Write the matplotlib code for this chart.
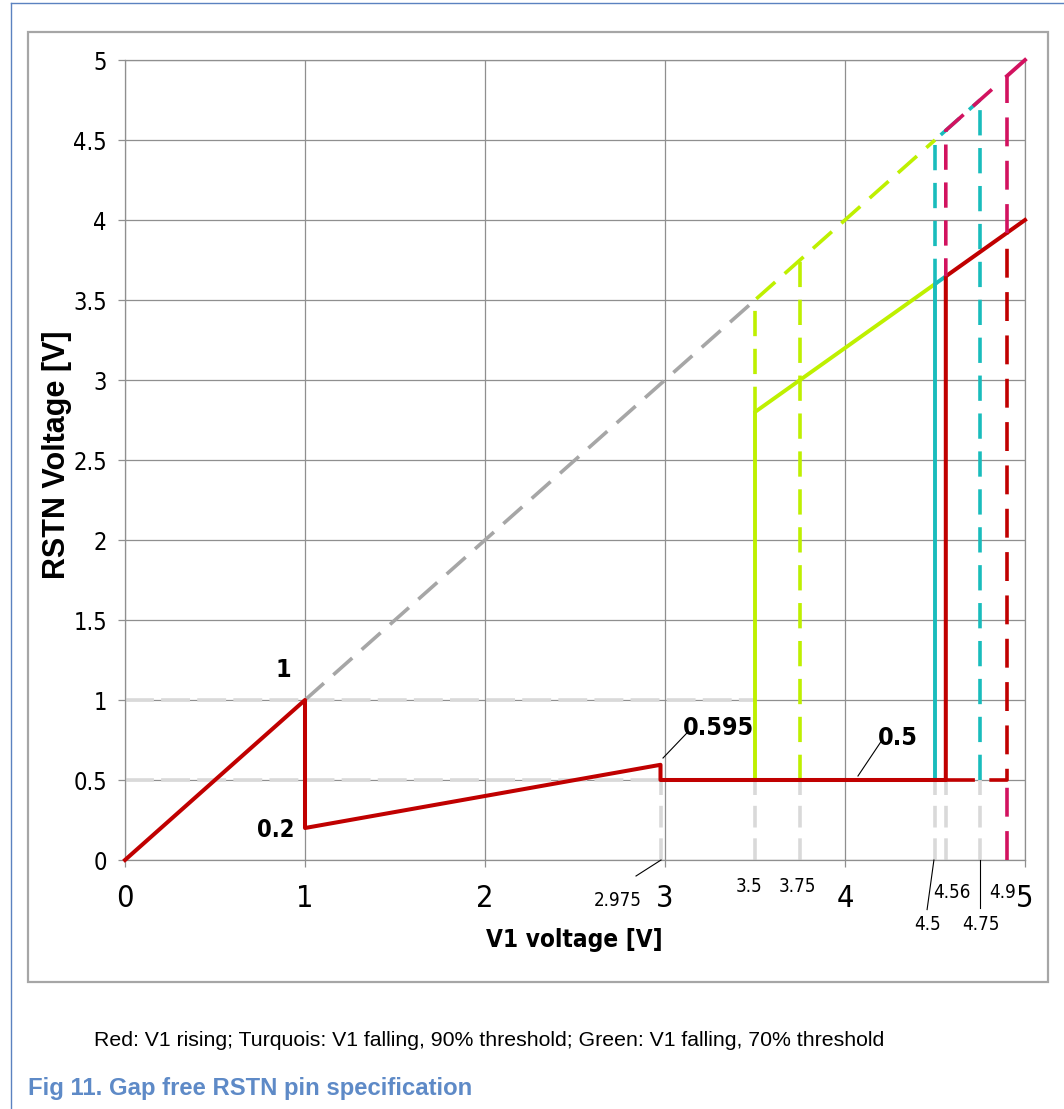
import matplotlib
matplotlib.use("Agg")
import matplotlib.pyplot as plt
from matplotlib import font_manager
from matplotlib.font_manager import FontProperties
from matplotlib.lines import Line2D
from matplotlib.patches import Rectangle

plt.rcParams['font.family'] = ['Liberation Sans', 'DejaVu Sans']


def narrow_font(bold):
    # look for an installed condensed face, otherwise plain Liberation Sans
    want = 'bold' if bold else 'normal'
    for stretch in ['condensed', 'semi-condensed']:
        for fam in ['Liberation Sans Narrow', 'Noto Sans', 'Open Sans', 'Roboto', 'DejaVu Sans']:
            for f in font_manager.fontManager.ttflist:
                if f.name != fam or f.style != 'normal':
                    continue
                w = 'bold' if f.weight in ('bold', 700) else f.weight
                if w in (400, 'normal', 'regular', 'book'):
                    w = 'normal'
                if w != want:
                    continue
                if fam == 'Liberation Sans Narrow' or f.stretch == stretch:
                    return FontProperties(fname=f.fname)
    return FontProperties(family='Liberation Sans', weight=want)


NARROW = narrow_font(False)
NARROW_B = narrow_font(True)

# ---- data ----
x_ticks = [0, 1, 2, 3, 4, 5]
y_ticks = [0, 0.5, 1, 1.5, 2, 2.5, 3, 3.5, 4, 4.5, 5]
y_tick_labels = ['0', '0.5', '1', '1.5', '2', '2.5', '3', '3.5', '4', '4.5', '5']

# red: V1 rising
red_x = [0, 1, 1, 2.975, 2.975, 4.56, 4.56, 5]
red_y = [0, 1, 0.2, 0.595, 0.5, 0.5, 3.648, 4]
red_dash_x = [4.56, 4.9, 4.9]
red_dash_y = [0.5, 0.5, 3.92]

# green: V1 falling, 70% threshold
green_x = [3.5, 3.5, 4.5]
green_y = [0.5, 2.8, 3.6]
green_dash_x = [3.5, 3.5, 4.5]
green_dash_y = [2.8, 3.5, 4.5]
green_v_x = [3.75, 3.75]
green_v_y = [0.5, 3.75]

# turquoise: V1 falling, 90% threshold
turq_x = [4.5, 4.5, 4.56]
turq_y = [0.5, 3.6, 3.648]
turq_dash_x = [4.5, 4.5, 4.75]
turq_dash_y = [3.6, 4.5, 4.75]
turq_v_x = [4.75, 4.75]
turq_v_y = [0.5, 4.75]

# magenta upper branch
mag_dash_x = [4.56, 4.56, 4.85]
mag_dash_y = [3.648, 4.56, 4.85]
mag_x = [4.9, 5]
mag_y = [4.9, 5]
mag_v_top_x = [4.9, 4.9]
mag_v_top_y = [3.92, 4.9]
mag_v_low_x = [4.9, 4.9]
mag_v_low_y = [0, 0.5]

# grey helper lines
diag_x = [1, 3.5]
diag_y = [1, 3.5]
guide_h_y = [1, 0.5]
guide_h_end = [3.5, 3.0]
guide_v_x = [2.975, 3.5, 3.75, 4.5, 4.56, 4.75]

# value labels: text, x, y
bold_labels = [('1', 0.878, 1.19, 18), ('0.2', 0.84, 0.19, 17),
               ('0.595', 3.295, 0.825, 18), ('0.5', 4.294, 0.7625, 18)]
bold_leaders = [((2.989, 0.6375), (3.122, 0.794)), ((4.072, 0.525), (4.206, 0.75))]
small_labels = [('2.975', 2.739, -0.256), ('3.5', 3.467, -0.163), ('3.75', 3.733, -0.163),
                ('4.5', 4.461, -0.40), ('4.56', 4.594, -0.206), ('4.75', 4.756, -0.406),
                ('4.9', 4.878, -0.20)]
small_leaders = [((2.978, 0.0), (2.839, -0.10)), ((4.494, 0.0), (4.456, -0.31)),
                 ((4.75, 0.0), (4.75, -0.30))]

RED = '#C00000'
GREEN = '#BEF000'
TURQ = '#19BCBC'
MAG = '#D2125F'
GRID = '#8F8F8F'

W, H = 1064, 1109
fig = plt.figure(figsize=(W / 100, H / 100), dpi=100)

# frame lines of the page
fig.add_artist(Line2D([11 / W, 1], [1 - 3 / H, 1 - 3 / H], color='#5B82C0', lw=1.0))
fig.add_artist(Line2D([11 / W, 11 / W], [0, 1 - 3 / H], color='#5B82C0', lw=1.0))
fig.add_artist(Rectangle((28 / W, 1 - 982 / H), 1020 / W, 950 / H, fill=False,
                         edgecolor='#A6A6A6', lw=1.6))

ax = fig.add_axes([125 / W, 1 - 860 / H, 900 / W, 800 / H])
ax.set_xlim(0, 5)
ax.set_ylim(0, 5)
ax.set_xticks(x_ticks)
ax.set_xticklabels([str(v) for v in x_ticks], fontproperties=NARROW, fontsize=22)
ax.set_yticks(y_ticks)
ax.set_yticklabels(y_tick_labels, fontproperties=NARROW, fontsize=17)
ax.grid(True, color=GRID, lw=0.9, zorder=0)
ax.set_axisbelow(True)
for s in ax.spines.values():
    s.set_color(GRID)
    s.set_linewidth(0.9)
ax.tick_params(axis='both', direction='out', length=5, width=0.9, color=GRID)
ax.tick_params(axis='x', pad=12)
ax.tick_params(axis='y', pad=8)

# helper lines
for yy, xe in zip(guide_h_y, guide_h_end):
    ax.plot([0, xe], [yy, yy], color='#D9D9D9', lw=2.6, ls=(0, (8, 2)), zorder=1)
for xx in guide_v_x:
    ax.plot([xx, xx], [0, 0.5], color='#D9D9D9', lw=2.6, ls=(0, (6, 3)), zorder=1)
ax.plot(diag_x, diag_y, color='#A6A6A6', lw=2.6, ls=(0, (7, 3.5)), zorder=2)

# green
ax.plot(green_dash_x, green_dash_y, color=GREEN, lw=2.6, ls=(0, (7, 3.5)), zorder=3)
ax.plot(green_v_x, green_v_y, color=GREEN, lw=2.6, ls=(0, (7, 3.5)), zorder=3)
ax.plot(green_x, green_y, color=GREEN, lw=2.8, zorder=3)

# turquoise
ax.plot(turq_dash_x, turq_dash_y, color=TURQ, lw=2.6, ls=(0, (7, 3.5)), zorder=4)
ax.plot(turq_v_x, turq_v_y, color=TURQ, lw=2.6, ls=(0, (7, 3.5)), zorder=4)
ax.plot(turq_x, turq_y, color=TURQ, lw=2.8, zorder=4)

# red
ax.plot(red_dash_x, red_dash_y, color=RED, lw=2.6, ls=(0, (8, 4)), zorder=5)
ax.plot(red_x, red_y, color=RED, lw=2.9, zorder=5, clip_on=False)

# magenta
ax.plot(mag_dash_x, mag_dash_y, color=MAG, lw=2.6, ls=(2, (7, 3.5)), zorder=6)
ax.plot(mag_v_top_x, mag_v_top_y, color=MAG, lw=2.6, ls=(0, (8, 4)), zorder=6)
ax.plot(mag_v_low_x, mag_v_low_y, color=MAG, lw=2.6, ls=(0, (8, 4)), zorder=6)
ax.plot(mag_x, mag_y, color=MAG, lw=2.8, zorder=6, clip_on=False)

# value labels
for txt, tx, ty, fs in bold_labels:
    ax.text(tx, ty, txt, fontproperties=NARROW_B, fontsize=fs,
            ha='center', va='center', zorder=8)
for (x0, y0), (x1, y1) in bold_leaders + small_leaders:
    ax.plot([x0, x1], [y0, y1], color='black', lw=0.8, zorder=8, clip_on=False)
for txt, tx, ty in small_labels:
    ax.text(tx, ty, txt, fontproperties=NARROW, fontsize=13.5, ha='center', va='center',
            clip_on=False)

ax.set_xlabel('V1 voltage [V]', fontproperties=NARROW_B, fontsize=17.5)
ax.xaxis.set_label_coords((574 - 125) / 900, (860 - 928) / 800)
ax.set_ylabel('RSTN Voltage [V]',
              fontproperties=FontProperties(family='Liberation Sans', weight='bold', size=22))
ax.yaxis.set_label_coords((72 - 125) / 900, (860 - 455) / 800)

fig.text(94 / W, 1 - 1041 / H,
         'Red: V1 rising; Turquois: V1 falling, 90% threshold; Green: V1 falling, 70% threshold',
         fontsize=15.3, va='center', ha='left')
fig.text(28 / W, 1 - 1089 / H, 'Fig 11. Gap free RSTN pin specification',
         fontweight='bold', fontsize=17.2, color='#5E8AC7', va='center', ha='left')

fig.savefig('out.png', dpi=100)
